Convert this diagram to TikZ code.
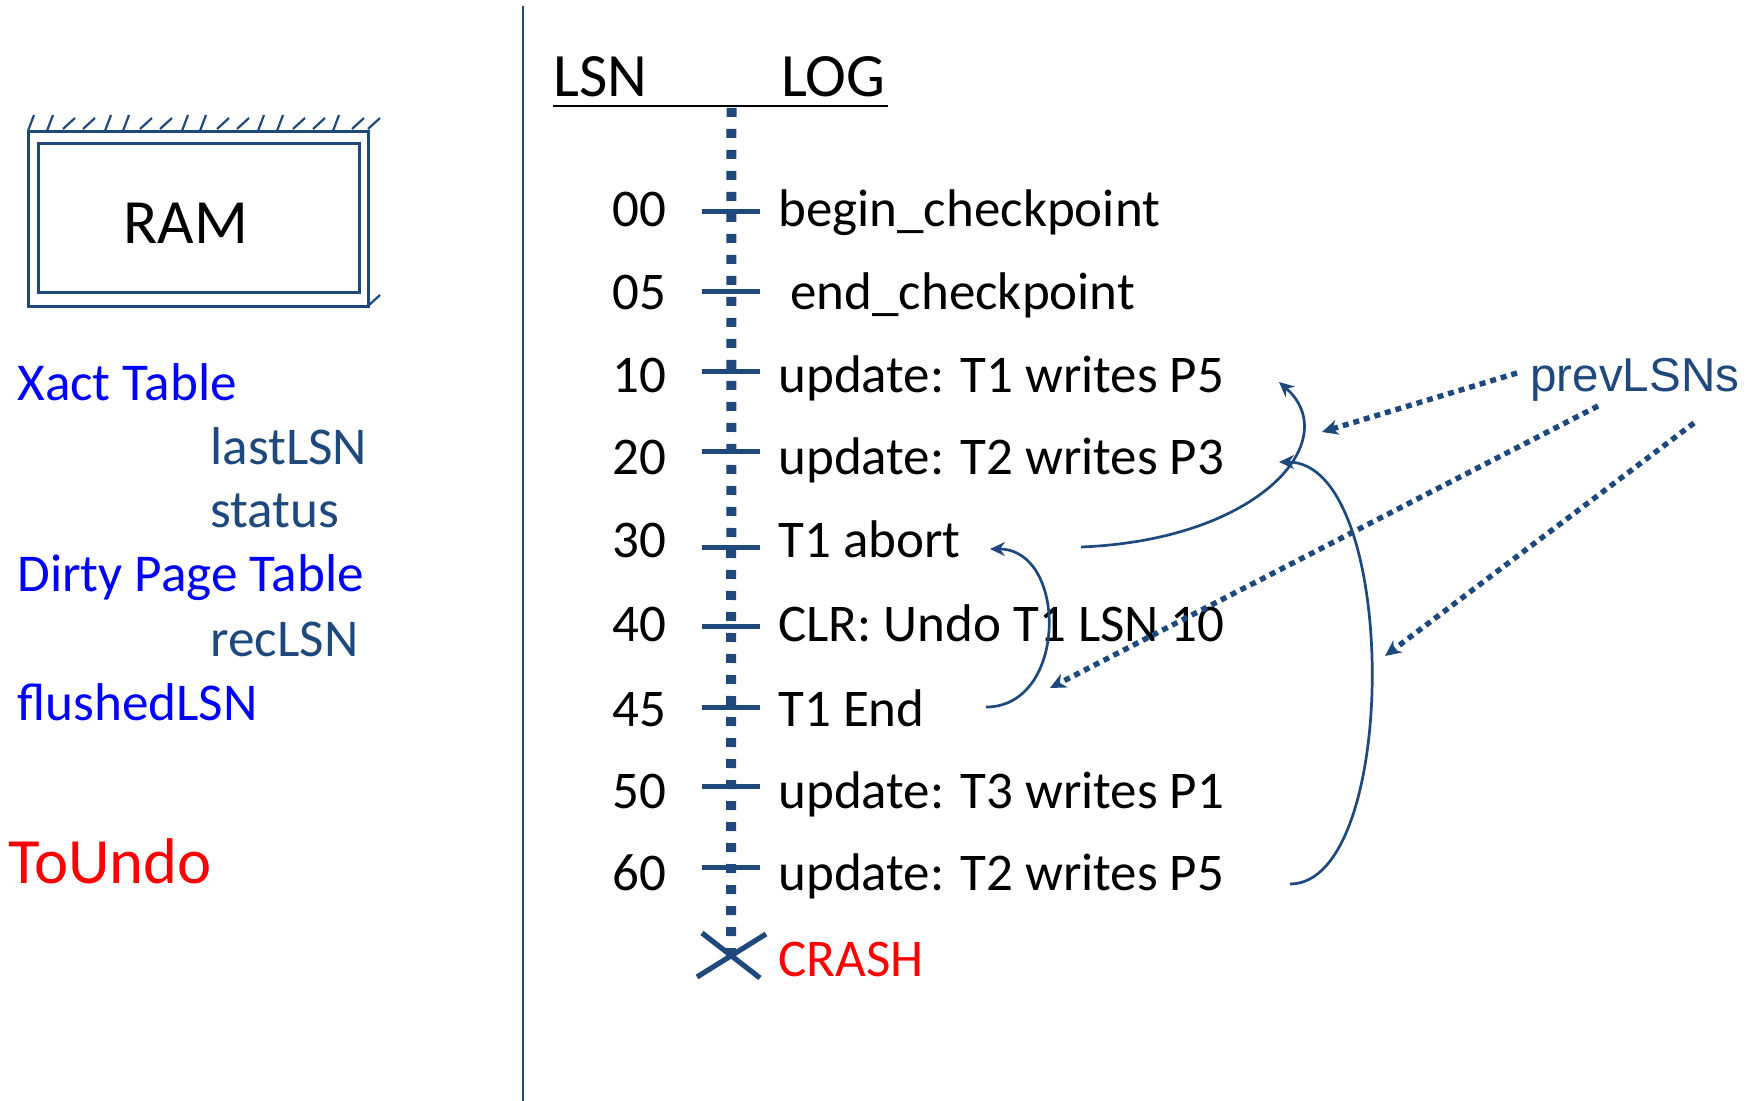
\documentclass[tikz,border=0pt]{standalone}
\usepackage{fontspec}
\setmainfont{Carlito}
\newfontfamily\arialfont{Liberation Sans}
\usetikzlibrary{arrows.meta}
\definecolor{dkblue}{RGB}{31,73,125}
\definecolor{pureblue}{RGB}{0,0,255}
\definecolor{purered}{RGB}{255,0,0}
\begin{document}
\begin{tikzpicture}[x=0.5pt,y=-0.5pt,
  logtext/.style={font=\fontsize{26.5}{30}\selectfont, inner sep=0pt, anchor=base west},
  lsnnum/.style={font=\fontsize{26.5}{30}\selectfont, inner sep=0pt, anchor=base east},
  hdr/.style={font=\fontsize{30.8}{34}\selectfont, inner sep=0pt, anchor=base west},
  memtext/.style={font=\fontsize{26.6}{30}\selectfont, inner sep=0pt, anchor=base west},
  ticker/.style={draw=dkblue, line width=2.4pt},
  timeline/.style={draw=dkblue, line width=5pt, dash pattern=on 4.5pt off 6pt},
  ptrarrow/.style={draw=dkblue, line width=1.35pt, -{Stealth[length=7.5pt,width=7pt,inset=2.5pt]}},
  prevarrow/.style={draw=dkblue, line width=2.7pt, dash pattern=on 3pt off 2.5pt, -{Stealth[length=8pt,width=7.5pt,inset=2.5pt]}},
  ramline/.style={draw=dkblue, line width=1.5pt}
]
\useasboundingbox (0,0) rectangle (1747,1101);

% separator
\coordinate (septop) at (523,6);
\coordinate (sepbot) at (523,1101);
\draw[dkblue, line width=1.3pt] (septop) -- (sepbot);

% RAM box
\draw[ramline] (28,132) rectangle (368,307);
\draw[ramline] (38,144) rectangle (359,293);
\foreach \x/\k in {28/0,47/0,63/1,83/1,105/0,123/0,140/1,160/1,182/0,200/0,217/1,237/1,258/0,277/0,293/1,313/1,333/0,352/1,368/1}{
  \ifnum\k=0
    \draw[dkblue, line width=1.1pt] (\x,131) -- ++(6,-16);
  \else
    \draw[dkblue, line width=1.1pt] (\x,129) -- ++(12,-11);
  \fi
}
\draw[dkblue, line width=1.1pt] (368,306) -- (380,295);
\node[font=\fontsize{31.5}{36}\selectfont, inner sep=0pt, anchor=base west] (ram) at (123,244) {RAM};

% memory structures
\node[memtext, text=pureblue] (xact) at (17,401) {Xact Table};
\node[memtext, text=dkblue] (lastlsn) at (210,465) {lastLSN};
\node[memtext, text=dkblue] (status) at (210,528) {status};
\node[memtext, text=pureblue] (dpt) at (17,592) {Dirty Page Table};
\node[memtext, text=dkblue] (reclsn) at (210,657) {recLSN};
\node[memtext, text=pureblue] (flushed) at (17,720) {flushedLSN};
\node[font=\fontsize{32.3}{36}\selectfont, inner sep=0pt, anchor=base west, text=purered] (toundo) at (8,883) {ToUndo};

% header
\node[hdr] (lsnh) at (553,96.7) {LSN};
\node[hdr] (logh) at (781,96.7) {LOG};
\coordinate (ulL) at (553,106);
\coordinate (ulR) at (888,106);
\draw[line width=1.3pt] (ulL) -- (ulR);

% timeline
\coordinate (tltop) at (731.5,108);
\coordinate (crash) at (731,956);
\draw[timeline] (tltop) -- (crash);

% ticks
\foreach \ty in {211.7,291.7,371.7,451.7,547.7,626.7,707.7,786.7,867.7}{
  \draw[ticker] (702,\ty) -- (760,\ty);
}

% rows
\node[lsnnum] (n00) at (667,226.7) {00};
\node[logtext] (r00) at (778,226.7) {begin\_checkpoint};
\node[lsnnum] (n05) at (667,310) {05};
\node[logtext] (r05) at (790,310) {end\_checkpoint};
\node[lsnnum] (n10) at (667,393) {10};
\node[logtext] (r10) at (778,393) {update: T1 writes P5};
\node[lsnnum] (n20) at (667,475) {20};
\node[logtext] (r20) at (778,475) {update: T2 writes P3};
\node[lsnnum] (n30) at (667,558) {30};
\node[logtext] (r30) at (778,558) {T1 abort};
\node[lsnnum] (n40) at (667,641.7) {40};
\node[logtext] (r40) at (778,641.7) {CLR: Undo T1 LSN 10};
\node[lsnnum] (n45) at (667,726.7) {45};
\node[logtext] (r45) at (778,726.7) {T1 End};
\node[lsnnum] (n50) at (667,808) {50};
\node[logtext] (r50) at (778,808) {update: T3 writes P1};
\node[lsnnum] (n60) at (667,890) {60};
\node[logtext] (r60) at (778,890) {update: T2 writes P5};

% crash
\draw[dkblue, line width=2.6pt] (697,977) -- (766,934);
\draw[dkblue, line width=2.6pt] (702,933) -- (760,978);
\node[logtext, text=purered] (crashtxt) at (778,976) {CRASH};

% prevLSN pointer arrows
\coordinate (s30) at (1081,547);
\coordinate (e10) at (1279,382);
\coordinate (s60) at (1290,884);
\coordinate (e20) at (1279,462);
\coordinate (s45) at (986,707);
\coordinate (e30) at (990,549);
\draw[ptrarrow] (s30) .. controls (1260,540) and (1345,440) .. (e10);
\draw[ptrarrow] (s60) .. controls (1400,884) and (1400,462) .. (e20);
\draw[ptrarrow] (s45) .. controls (1068,707) and (1068,549) .. (e30);

% prevLSNs label
\node[font=\arialfont\fontsize{23.8}{27}\selectfont, inner sep=0pt, anchor=base west, text=dkblue] (prev) at (1530,392) {prevLSNs};
\coordinate (pa) at (1517,373);
\coordinate (pb) at (1598,406);
\coordinate (pc) at (1694,423);
\coordinate (ta) at (1322,432);
\coordinate (tb) at (1050,688);
\coordinate (tc) at (1385,656);
\draw[prevarrow] (pa) -- (ta);
\draw[prevarrow] (pb) -- (tb);
\draw[prevarrow] (pc) -- (tc);
\end{tikzpicture}
\end{document}
